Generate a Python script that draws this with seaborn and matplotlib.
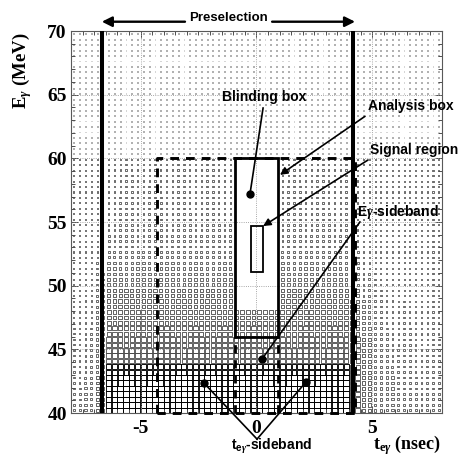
import numpy as np
import pandas as pd
import matplotlib
matplotlib.use("Agg")
import matplotlib.pyplot as plt
import seaborn as sns
from matplotlib.patches import Rectangle

plt.rcParams["mathtext.fontset"] = "custom"
plt.rcParams["mathtext.rm"] = "Liberation Serif:bold"
plt.rcParams["mathtext.bf"] = "Liberation Serif:bold"
plt.rcParams["mathtext.it"] = "Liberation Serif:bold:italic"
plt.rcParams["mathtext.sf"] = "Liberation Sans:bold"

SERIF = "Liberation Serif"
SANS = "Liberation Sans"

# ---- binning of the (t_egamma, E_gamma) histogram ----
t_edges = np.arange(-8.0, 8.0 + 1e-9, 0.25)
e_edges = np.linspace(40.0, 70.0, 71)

# relative box size per 1-MeV slice of E_gamma (40-41 ... 69-70 MeV)
e_level = [1.00, 1.00, 0.97, 0.90, 0.85, 0.81, 0.76, 0.70, 0.64, 0.56,
           0.48, 0.42, 0.36, 0.32, 0.30, 0.28, 0.27, 0.26, 0.25, 0.24,
           0.17, 0.17, 0.17, 0.17, 0.17, 0.16, 0.16, 0.16, 0.16, 0.16]
# relative timing acceptance per 0.5-ns slice of t_egamma (-8.0 ... 8.0 ns)
t_level = [0.30, 0.38, 0.55, 1.00, 1.00, 1.00, 1.00, 1.00,
           1.00, 1.00, 1.00, 1.00, 1.00, 1.00, 1.00, 1.00,
           1.00, 1.00, 1.00, 1.00, 1.00, 1.00, 1.00, 1.00,
           0.85, 0.62, 0.45, 0.40, 0.34, 0.33, 0.32, 0.32]

# ---- regions (ns, MeV) ----
presel_t = [-6.67, 4.18]
sideband_box_t = [-4.29, 4.25]
sideband_box_e = [40.0, 60.0]
analysis_t = [-0.94, 0.93]
analysis_e = [46.0, 60.0]
blind_e = [48.0, 60.0]
signal_t = [-0.23, 0.27]
signal_e = [51.1, 54.7]

t_c = 0.5 * (t_edges[:-1] + t_edges[1:])
e_c = 0.5 * (e_edges[:-1] + e_edges[1:])
T, E = np.meshgrid(t_c, e_c)
e_idx = np.floor(E - 40.0).astype(int)
t_idx = np.floor((T + 8.0) / 0.5).astype(int)
frac = np.array(e_level)[e_idx] * np.array(t_level)[t_idx]
frac = np.maximum(frac, np.where(E > 60, 0.16, 0.2))
blind = ((T > analysis_t[0]) & (T < analysis_t[1]) &
         (E > blind_e[0]) & (E < blind_e[1]))
df = pd.DataFrame({"t": T[~blind], "E": E[~blind], "frac": frac[~blind]})
df["area"] = df["frac"] ** 2

fig = plt.figure(figsize=(4.64, 4.57), dpi=100)
ax = fig.add_axes([71 / 464, 44 / 457, 370.7 / 464, 382 / 457])

FULL = 3.95  # marker side (pt) of a full bin
groups = [
    (df["frac"] >= 0.9, "black", 0.65),
    ((df["frac"] >= 0.5) & (df["frac"] < 0.9), "0.28", 0.6),
    ((df["frac"] >= 0.18) & (df["frac"] < 0.5), "0.32", 0.6),
    (df["frac"] < 0.18, "0.55", 0.5),
]
for sel, col, lw in groups:
    sns.scatterplot(data=df[sel], x="t", y="E", size="area",
                    sizes=(0, FULL ** 2), size_norm=(0, 1), marker="s",
                    color=col, facecolors="none", edgecolor=col,
                    linewidth=lw, legend=False, ax=ax, zorder=1)

ax.set_xlim(-8, 8)
ax.set_ylim(40, 70)

# dotted grid
for xv in [-5, 0, 5]:
    ax.axvline(xv, color="0.55", lw=0.6, ls=":", zorder=2)
for yv in [45, 50, 55, 60, 65]:
    ax.axhline(yv, color="0.55", lw=0.6, ls=":", zorder=2)

# preselection window
for xv in presel_t:
    ax.axvline(xv, color="black", lw=2.9, zorder=4)

# sideband box (dashed)
dash = (0, (3.0, 2.4))
tb0, tb1 = sideband_box_t
eb0, eb1 = sideband_box_e
ax.plot([tb0, tb0, tb1, tb1, tb0], [eb0, eb1, eb1, eb0, eb0],
        color="black", lw=2.1, ls=dash, clip_on=False, zorder=4)
for xv in analysis_t:
    ax.plot([xv, xv], [40.0, analysis_e[0]], color="black", lw=2.0,
            ls=dash, clip_on=False, zorder=4)

# analysis box
ax.add_patch(Rectangle((analysis_t[0], analysis_e[0]),
                       analysis_t[1] - analysis_t[0],
                       analysis_e[1] - analysis_e[0],
                       fill=False, ec="black", lw=2.0, zorder=5))
# signal region
ax.add_patch(Rectangle((signal_t[0], signal_e[0]),
                       signal_t[1] - signal_t[0],
                       signal_e[1] - signal_e[0],
                       fill=False, ec="black", lw=1.3, zorder=5))

# ---- labels and pointers ----
lab = dict(fontfamily=SANS, fontweight="bold", fontsize=10, color="black",
           zorder=7, clip_on=False)
arrow = dict(arrowstyle="-|>", lw=1.2, color="black", mutation_scale=11,
             shrinkA=0, shrinkB=0)

ax.text(-1.22, 71.05, "Preselection", ha="center", va="center",
        **{**lab, "fontsize": 9.5})
big_arrow = dict(arrowstyle="-|>", lw=1.7, color="black", mutation_scale=15,
                 shrinkA=0, shrinkB=0)
ax.annotate("", xy=(presel_t[0], 70.73), xytext=(-3.08, 70.73),
            arrowprops=big_arrow, annotation_clip=False)
ax.annotate("", xy=(4.26, 70.73), xytext=(0.68, 70.73),
            arrowprops=big_arrow, annotation_clip=False)

ax.text(-1.48, 64.8, "Blinding box", ha="left", va="center", **lab)
ax.plot([0.29, -0.275], [63.95, 57.2], color="black", lw=1.2, zorder=6)
ax.plot([-0.275], [57.2], "o", color="black", ms=5, zorder=6)

ax.text(4.82, 64.1, "Analysis box", ha="left", va="center", **lab)
ax.annotate("", xy=(1.02, 58.7), xytext=(4.69, 63.3), arrowprops=arrow,
            zorder=6)

ax.text(4.9, 60.65, "Signal region", ha="left", va="center", **lab)
ax.annotate("", xy=(0.29, 54.68), xytext=(4.82, 59.87), arrowprops=arrow,
            zorder=6)

ax.text(4.34, 55.8, r"E$\gamma$-sideband", ha="left", va="center", **lab)
ax.plot([4.47, 0.243], [55.0, 44.23], color="black", lw=1.2, zorder=6,
        clip_on=False)
ax.plot([0.243], [44.23], "o", color="black", ms=5, zorder=6)

ax.text(-1.09, 37.4, r"t$_{\mathsf{e}\gamma}$-sideband", ha="left",
        va="center", **lab)
apex = (0.03, 37.95)
for dx, dy in [(-2.26, 42.35), (2.14, 42.43)]:
    ax.plot([dx, apex[0]], [dy, apex[1]], color="black", lw=1.2, zorder=6,
            clip_on=False)
    ax.plot([dx], [dy], "o", color="black", ms=5, zorder=6)

# ---- axes styling ----
ax.set_xticks([-5, 0, 5])
ax.set_xticklabels(["-5", "0", "5"])
ax.set_yticks([40, 45, 50, 55, 60, 65, 70])
ax.set_xticks(np.arange(-8, 8.01, 0.5), minor=True)
ax.set_yticks(np.arange(40, 70.01, 1), minor=True)
ax.tick_params(which="both", direction="in", top=True, right=True,
               color="0.3", width=0.7)
ax.tick_params(which="major", length=5)
ax.tick_params(which="minor", length=3)
ax.tick_params(axis="x", pad=5)
ax.tick_params(axis="y", pad=3)
for lbl in ax.get_xticklabels() + ax.get_yticklabels():
    lbl.set_fontfamily(SERIF)
    lbl.set_fontweight("bold")
    lbl.set_fontsize(14)
for sp in ax.spines.values():
    sp.set_color("0.35")
    sp.set_linewidth(0.8)
ax.set_xlabel("")
ax.set_ylabel("")

fig.text(22 / 464, 1 - 71 / 457, r"E$_{\gamma}$ (MeV)", rotation=90,
         ha="center", va="center", fontfamily=SERIF, fontweight="bold",
         fontsize=13.5)
fig.text(373 / 464, 1 - 445 / 457, r"t$_{\mathrm{e}\gamma}$ (nsec)",
         ha="left", va="center", fontfamily=SERIF, fontweight="bold",
         fontsize=13)

fig.savefig("out.png", dpi=100, facecolor="white")
